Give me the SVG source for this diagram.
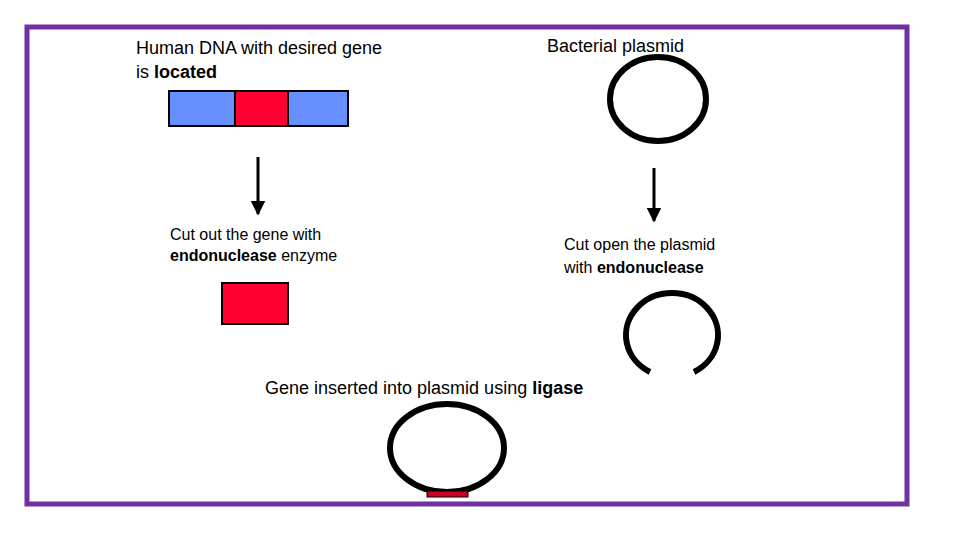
<svg xmlns="http://www.w3.org/2000/svg" width="960" height="540" viewBox="0 0 960 540">
<style>
text{font-family:"Comic Sans MS","Liberation Sans",sans-serif;fill:#000}
.t{font-size:18px}.s{font-size:16px}
.ring{fill:none;stroke:#000;stroke-width:6}
.box{stroke:#000;stroke-width:2}
</style>
<defs><marker id="ah" viewBox="0 0 10 10" refX="9" refY="5" markerWidth="5" markerHeight="5" orient="auto"><path d="M0,0L10,5L0,10z" fill="#000"/></marker></defs>
<rect x="0" y="0" width="960" height="540" fill="#fff"/>
<rect x="27" y="27" width="880" height="477" fill="#fff" stroke="#7030A0" stroke-width="5"/>
<g id="dna">
<text class="t" x="136" y="54">Human DNA with desired gene</text>
<text class="t" x="136" y="78">is <tspan font-weight="bold">located</tspan></text>
<rect class="box" x="169" y="91" width="66" height="35" fill="#6690FF"/>
<rect class="box" x="235" y="91" width="53" height="35" fill="#FF0033"/>
<rect class="box" x="288" y="91" width="60" height="35" fill="#6690FF"/>
</g>
<g id="plasmid">
<text class="t" x="547" y="52">Bacterial plasmid</text>
<ellipse class="ring" cx="658" cy="99" rx="48" ry="42"/>
</g>
<g id="cutgene">
<text class="s" x="170" y="240">Cut out the gene with</text>
<text class="s" x="170" y="261"><tspan font-weight="bold">endonuclease</tspan> enzyme</text>
<rect class="box" x="222" y="283" width="66" height="41" fill="#FF0033"/>
</g>
<g id="cutplasmid">
<text class="s" x="564" y="250">Cut open the plasmid</text>
<text class="s" x="564" y="273">with <tspan font-weight="bold">endonuclease</tspan></text>
<path class="ring" d="M650,372 A46,42 0 1 1 694,372"/>
</g>
<g id="recombinant">
<text class="t" x="265" y="394">Gene inserted into plasmid using <tspan font-weight="bold">ligase</tspan></text>
<ellipse class="ring" cx="447" cy="448" rx="57" ry="44"/>
<rect x="427" y="491" width="41" height="6" fill="#CC0022" stroke="#000" stroke-width="1"/>
</g>
<g id="connectors" stroke="#000" stroke-width="3" marker-end="url(#ah)">
<line x1="258" y1="157" x2="258" y2="214"/>
<line x1="654" y1="168" x2="654" y2="221"/>
</g>
</svg>
